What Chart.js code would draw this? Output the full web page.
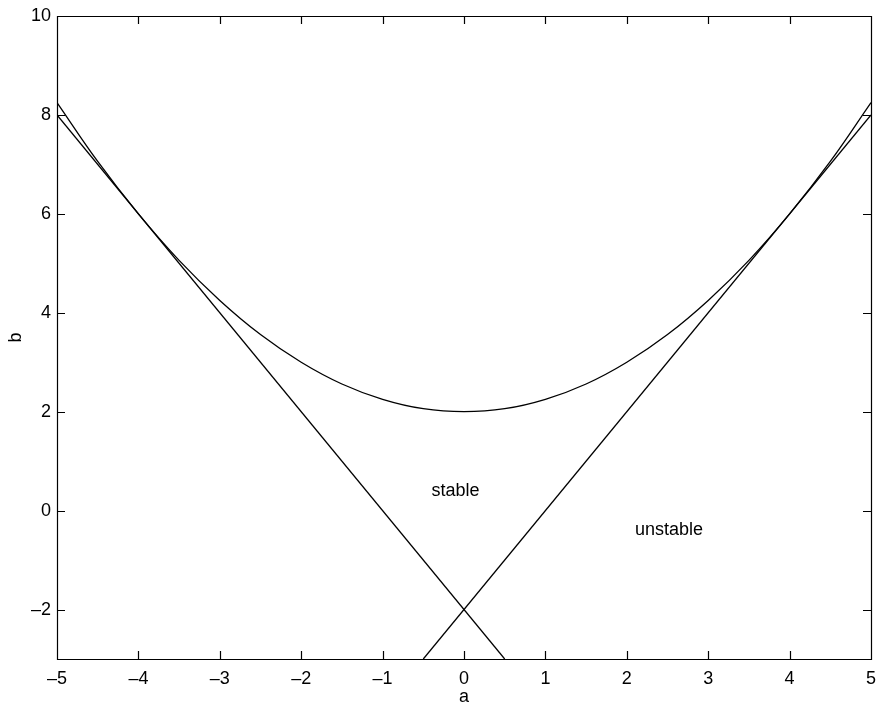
<!DOCTYPE html>
<html>
<head>
<meta charset="utf-8">
<script src="https://cdn.jsdelivr.net/npm/chart.js@4"></script>
<style>
  html, body { margin: 0; padding: 0; background: #fff; }
  #wrap { width: 878px; height: 702px; position: relative; }
</style>
</head>
<body>
<div id="wrap"><canvas id="chart"></canvas></div>
<script>
// boundary curve b(a)
const curveA = [-5, -4.5, -4, -3.5, -3, -2.5, -2, -1.5, -1, -0.5, 0, 0.5, 1, 1.5, 2, 2.5, 3, 3.5, 4, 4.5, 5];
const curveB = [8.25, 7.06, 6, 5.06, 4.25, 3.56, 3, 2.56, 2.25, 2.06, 2, 2.06, 2.25, 2.56, 3, 3.56, 4.25, 5.06, 6, 7.06, 8.25];

// the two straight lines (end points)
const leftLineA = [-5, 0.5];
const leftLineB = [8, -3];
const rightLineA = [-0.5, 5];
const rightLineB = [-3, 8];

// tick values
const xTicks = [-5, -4, -3, -2, -1, 0, 1, 2, 3, 4, 5];
const yTicks = [-2, 0, 2, 4, 6, 8, 10];

// region labels
const regionText = ["stable", "unstable"];
const regionA = [-0.4, 2.1];
const regionB = [0.4, -0.4];

const FONT = "'Liberation Sans', Arial, Helvetica, sans-serif";

function toPoints(xs, ys) {
  return xs.map((x, i) => ({ x: x, y: ys[i] }));
}

function dashLabel(v) {
  return String(v).replace("-", "\u2013");
}

// MATLAB style frame: box, inward ticks, axis names and text labels
const framePlugin = {
  id: "frame",
  afterDraw(chart) {
    const { ctx, chartArea: area, scales } = chart;
    const x = scales.x, y = scales.y;
    const tick = 8;
    ctx.save();
    ctx.strokeStyle = "#000";
    ctx.lineWidth = 1.2;
    ctx.beginPath();
    ctx.rect(Math.round(area.left) + 0.5, Math.round(area.top) + 0.5,
      Math.round(area.right - area.left), Math.round(area.bottom - area.top));
    xTicks.forEach(v => {
      const px = Math.round(x.getPixelForValue(v)) + 0.5;
      ctx.moveTo(px, area.bottom); ctx.lineTo(px, area.bottom - tick);
      ctx.moveTo(px, area.top); ctx.lineTo(px, area.top + tick);
    });
    yTicks.forEach(v => {
      const py = Math.round(y.getPixelForValue(v)) + 0.5;
      ctx.moveTo(area.left, py); ctx.lineTo(area.left + tick, py);
      ctx.moveTo(area.right, py); ctx.lineTo(area.right - tick, py);
    });
    ctx.stroke();

    ctx.fillStyle = "#000";
    ctx.font = "18px " + FONT;
    ctx.textAlign = "left";
    ctx.textBaseline = "middle";
    regionText.forEach((t, i) => {
      ctx.fillText(t, x.getPixelForValue(regionA[i]), y.getPixelForValue(regionB[i]));
    });

    // axis names
    ctx.textAlign = "center";
    ctx.fillText("a", (area.left + area.right) / 2, 697);
    ctx.translate(16, (area.top + area.bottom) / 2);
    ctx.rotate(-Math.PI / 2);
    ctx.fillText("b", 0, 0);
    ctx.restore();
  }
};

const lineStyle = {
  borderColor: "#000",
  borderWidth: 1.3,
  pointRadius: 0,
  showLine: true,
  fill: false
};

new Chart(document.getElementById("chart"), {
  type: "scatter",
  data: {
    datasets: [
      { ...lineStyle, label: "curve", data: toPoints(curveA, curveB), tension: 0.4 },
      { ...lineStyle, label: "left", data: toPoints(leftLineA, leftLineB) },
      { ...lineStyle, label: "right", data: toPoints(rightLineA, rightLineB) }
    ]
  },
  options: {
    responsive: true,
    maintainAspectRatio: false,
    animation: false,
    layout: { padding: { top: 16, right: 7, left: 0, bottom: 0 } },
    plugins: { legend: { display: false }, tooltip: { enabled: false } },
    scales: {
      x: {
        type: "linear",
        min: -5,
        max: 5,
        grid: { display: false, drawTicks: false },
        border: { display: false },
        afterBuildTicks: s => { s.ticks = xTicks.map(v => ({ value: v })); },
        afterFit: s => { s.height = 43; s.paddingLeft = 0; s.paddingRight = 0; },
        ticks: {
          color: "#000",
          padding: 9,
          maxRotation: 0,
          font: { family: FONT, size: 18 },
          callback: v => dashLabel(v)
        }
      },
      y: {
        type: "linear",
        min: -3,
        max: 10,
        grid: { display: false, drawTicks: false },
        border: { display: false },
        afterBuildTicks: s => { s.ticks = yTicks.map(v => ({ value: v })); },
        afterFit: s => { s.width = 57; s.paddingTop = 0; s.paddingBottom = 0; },
        ticks: {
          color: "#000",
          padding: 6,
          font: { family: FONT, size: 18 },
          callback: v => dashLabel(v)
        }
      }
    }
  },
  plugins: [framePlugin]
});
</script>
</body>
</html>
